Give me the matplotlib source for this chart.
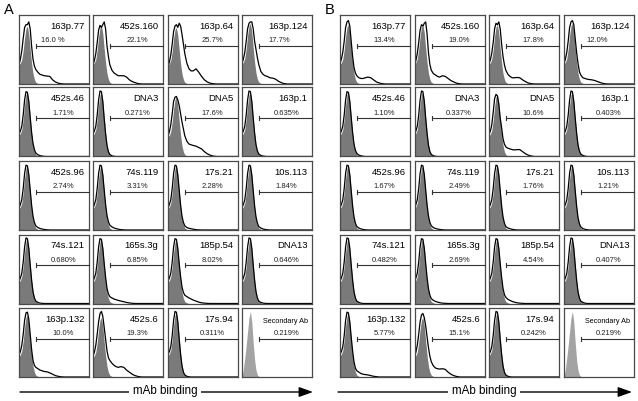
import matplotlib
matplotlib.use("Agg")
import matplotlib.pyplot as plt

plt.rcParams['font.family'] = ['Liberation Sans', 'DejaVu Sans']

# ---------------- data ----------------
# fluorescence axis (fraction of log scale) at which histogram heights were read
x_grid = [0, .02, .04, .06, .08, .10, .12, .14, .16, .18, .20, .22, .24, .27,
          .30, .33, .36, .40, .44, .48, .52, .56, .60, .65, .70, 1.0]

# isotype/secondary control histogram (normalised, peak = 1)
control = [.33, .36, .42, .58, .80, .96, 1.0, .86, .60, .36, .18, .08, .03, .01,
           0, 0, 0, 0, 0, 0, 0, 0, 0, 0, 0, 0]
# secondary antibody only panel
secondary = [0, .12, .28, .46, .66, .86, .95, .80, .50, .25, .10, .03, .01, 0,
             0, 0, 0, 0, 0, 0, 0, 0, 0, 0, 0, 0]

names = ["163p.77", "452s.160", "163p.64", "163p.124",
         "452s.46", "DNA3", "DNA5", "163p.1",
         "452s.96", "74s.119", "17s.21", "10s.113",
         "74s.121", "165s.3g", "185p.54", "DNA13",
         "163p.132", "452s.6", "17s.94", "Secondary Ab"]

pct_A = ["16.0 %", "22.1%", "25.7%", "17.7%", "1.71%", "0.271%", "17.6%", "0.635%",
         "2.74%", "3.31%", "2.28%", "1.84%", "0.680%", "6.85%", "8.02%", "0.646%",
         "10.0%", "19.3%", "0.311%", "0.219%"]
pct_B = ["13.4%", "19.0%", "17.8%", "12.0%", "1.10%", "0.337%", "10.6%", "0.403%",
         "1.67%", "2.49%", "1.76%", "1.21%", "0.482%", "2.69%", "4.54%", "0.407%",
         "5.77%", "15.1%", "0.242%", "0.219%"]

# height of control histogram in each panel
ctrl_peak_A = [.84, .85, .82, .88, .93, .93, .86, .93, .93, .93, .93, .93,
               .93, .93, .92, .93, .90, .86, .93, .93]
ctrl_peak_B = [.86, .86, .86, .88, .93, .93, .90, .93, .93, .93, .93, .93,
               .93, .93, .93, .93, .92, .86, .93, .93]

# mAb staining histograms (black lines), read at x_grid
lines_A = [
    [.28, .36, .48, .66, .82, .86, .86, .90, .80, .55, .36, .26, .21, .17, .14, .13, .12, .115, .11, .06, .03, .012, .004, 0, 0, 0],
    [.28, .34, .44, .60, .78, .85, .82, .86, .90, .80, .55, .40, .28, .20, .16, .14, .12, .12, .12, .10, .06, .035, .02, .005, 0, 0],
    [.26, .32, .42, .58, .76, .84, .86, .82, .88, .84, .72, .58, .44, .30, .22, .19, .19, .22, .17, .11, .06, .03, .012, .004, 0, 0],
    [.30, .36, .46, .62, .80, .88, .90, .90, .80, .62, .50, .38, .28, .18, .14, .12, .11, .09, .085, .07, .04, .02, .006, 0, 0, 0],
    [.33, .37, .44, .60, .82, .94, .93, .80, .57, .35, .19, .10, .05, .025, .013, .006, .002, 0, 0, 0, 0, 0, 0, 0, 0, 0],
    [.33, .37, .44, .60, .82, .95, .94, .80, .55, .33, .16, .07, .03, .01, .003, 0, 0, 0, 0, 0, 0, 0, 0, 0, 0, 0],
    [.30, .36, .46, .62, .80, .86, .87, .82, .74, .62, .50, .40, .30, .22, .18, .17, .16, .15, .13, .11, .07, .04, .02, .005, 0, 0],
    [.33, .37, .44, .60, .82, .95, .94, .80, .56, .34, .17, .08, .035, .015, .006, .002, 0, 0, 0, 0, 0, 0, 0, 0, 0, 0],
    [.32, .37, .44, .60, .82, .94, .93, .80, .58, .36, .20, .11, .06, .035, .022, .014, .008, .003, 0, 0, 0, 0, 0, 0, 0, 0],
    [.32, .37, .44, .60, .82, .94, .93, .80, .58, .37, .21, .12, .07, .045, .03, .02, .012, .005, .002, 0, 0, 0, 0, 0, 0, 0],
    [.32, .37, .44, .60, .82, .94, .93, .80, .58, .36, .20, .11, .06, .035, .025, .018, .012, .005, .002, 0, 0, 0, 0, 0, 0, 0],
    [.33, .37, .44, .60, .82, .94, .93, .80, .57, .35, .19, .10, .05, .028, .015, .008, .003, 0, 0, 0, 0, 0, 0, 0, 0, 0],
    [.33, .37, .44, .60, .82, .95, .94, .80, .56, .34, .17, .08, .035, .015, .006, .002, 0, 0, 0, 0, 0, 0, 0, 0, 0, 0],
    [.33, .37, .44, .60, .82, .94, .93, .80, .58, .38, .22, .14, .10, .08, .065, .055, .045, .035, .025, .015, .008, .003, 0, 0, 0, 0],
    [.33, .37, .44, .60, .82, .94, .93, .80, .58, .39, .24, .16, .12, .10, .08, .065, .05, .035, .02, .01, .005, .002, 0, 0, 0, 0],
    [.33, .37, .44, .60, .82, .95, .94, .80, .56, .34, .17, .08, .035, .015, .006, .002, 0, 0, 0, 0, 0, 0, 0, 0, 0, 0],
    [.32, .37, .46, .62, .82, .93, .94, .84, .62, .40, .24, .17, .14, .12, .10, .09, .08, .075, .06, .04, .02, .01, .003, 0, 0, 0],
    [.30, .36, .46, .62, .80, .92, .95, .88, .72, .55, .38, .28, .24, .20, .17, .15, .14, .15, .14, .10, .07, .04, .02, .006, 0, 0],
    [.33, .37, .44, .60, .82, .95, .94, .80, .55, .33, .16, .07, .03, .01, .003, 0, 0, 0, 0, 0, 0, 0, 0, 0, 0, 0],
    None,
]
lines_B = [
    [.30, .36, .46, .62, .82, .90, .92, .84, .62, .40, .24, .16, .12, .09, .08, .08, .09, .10, .09, .06, .03, .015, .005, 0, 0, 0],
    [.28, .34, .44, .60, .78, .86, .84, .88, .90, .72, .45, .28, .20, .15, .13, .11, .10, .12, .11, .08, .05, .03, .012, .003, 0, 0],
    [.30, .35, .45, .60, .80, .88, .86, .90, .80, .58, .40, .28, .20, .14, .11, .09, .09, .095, .09, .06, .035, .015, .005, 0, 0, 0],
    [.30, .36, .46, .62, .82, .90, .92, .86, .66, .46, .30, .18, .13, .09, .08, .07, .065, .06, .05, .035, .02, .008, .002, 0, 0, 0],
    [.33, .37, .44, .60, .82, .94, .93, .80, .57, .35, .18, .09, .045, .02, .01, .004, 0, 0, 0, 0, 0, 0, 0, 0, 0, 0],
    [.33, .37, .44, .60, .82, .95, .94, .80, .55, .33, .16, .07, .03, .01, .003, 0, 0, 0, 0, 0, 0, 0, 0, 0, 0, 0],
    [.32, .37, .46, .64, .84, .90, .88, .76, .56, .42, .26, .18, .14, .12, .11, .10, .095, .10, .10, .07, .04, .02, .008, 0, 0, 0],
    [.33, .37, .44, .60, .82, .95, .94, .80, .56, .34, .17, .08, .035, .015, .005, 0, 0, 0, 0, 0, 0, 0, 0, 0, 0, 0],
    [.33, .37, .44, .60, .82, .94, .93, .80, .57, .35, .19, .10, .05, .028, .015, .008, .003, 0, 0, 0, 0, 0, 0, 0, 0, 0],
    [.32, .37, .44, .60, .82, .94, .93, .80, .58, .36, .20, .11, .06, .035, .022, .014, .008, .003, 0, 0, 0, 0, 0, 0, 0, 0],
    [.33, .37, .44, .60, .82, .94, .93, .80, .57, .35, .19, .10, .05, .03, .018, .01, .005, 0, 0, 0, 0, 0, 0, 0, 0, 0],
    [.33, .37, .44, .60, .82, .94, .93, .80, .57, .35, .18, .09, .045, .02, .01, .004, 0, 0, 0, 0, 0, 0, 0, 0, 0, 0],
    [.33, .37, .44, .60, .82, .95, .94, .80, .56, .34, .17, .08, .035, .015, .005, 0, 0, 0, 0, 0, 0, 0, 0, 0, 0, 0],
    [.33, .37, .44, .60, .82, .94, .93, .80, .58, .37, .21, .12, .07, .045, .03, .02, .012, .005, .002, 0, 0, 0, 0, 0, 0, 0],
    [.33, .37, .44, .60, .82, .94, .93, .80, .58, .38, .22, .13, .09, .06, .045, .03, .02, .01, .005, .002, 0, 0, 0, 0, 0, 0],
    [.33, .37, .44, .60, .82, .95, .94, .80, .56, .34, .17, .08, .035, .015, .005, 0, 0, 0, 0, 0, 0, 0, 0, 0, 0, 0],
    [.33, .37, .44, .60, .82, .94, .93, .80, .58, .38, .22, .13, .09, .07, .05, .04, .035, .03, .02, .01, .005, 0, 0, 0, 0, 0],
    [.30, .36, .46, .62, .80, .90, .92, .86, .74, .58, .42, .30, .22, .16, .13, .12, .115, .12, .11, .07, .04, .02, .008, 0, 0, 0],
    [.33, .37, .44, .60, .82, .95, .94, .80, .55, .33, .16, .07, .03, .01, .003, 0, 0, 0, 0, 0, 0, 0, 0, 0, 0, 0],
    None,
]

# ---------------- layout ----------------
W, H = 638, 401
fig = plt.figure(figsize=(W / 100, H / 100), dpi=100)

cols_A = [19, 93, 168, 242]
cols_B = [340, 414.5, 489, 564]
rows_top = [15, 87.5, 161, 234.5, 308]
pw, ph = 70, 69
gate_x, gate_y = 0.245, 0.555
pct_xpos_A = {0: 0.49, 3: 0.53}
pct_xpos_B = {3: 0.48}

FILL = '#7a7a7a'
FILL_SEC = '#a3a3a3'


def draw_panel(left, top, idx, line, cpeak, pct, pctx):
    ax = fig.add_axes([left / W, 1 - (top + ph) / H, pw / W, ph / H])
    ax.set_xlim(0, 1)
    ax.set_ylim(0, 1)
    ax.set_xticks([])
    ax.set_yticks([])
    for s in ax.spines.values():
        s.set_color('#4a4a4a')
        s.set_linewidth(0.9)
    if line is None:
        ax.fill_between(x_grid, 0, secondary, color=FILL_SEC, lw=0, zorder=1)
        ax.text(0.94, 0.81, names[idx], ha='right', va='center', fontsize=5.2)
    else:
        ax.fill_between(x_grid, 0, [c * cpeak for c in control], color=FILL, lw=0, zorder=1)
        ax.plot(x_grid, line, color='black', lw=0.9, zorder=2)
        ax.text(0.935, 0.835, names[idx], ha='right', va='center', fontsize=6.8)
    ax.plot([gate_x, 1], [gate_y, gate_y], color='#333333', lw=0.8, zorder=3, clip_on=False)
    ax.plot([gate_x, gate_x], [gate_y - 0.03, gate_y + 0.03], color='#333333', lw=0.8, zorder=3)
    ax.text(pctx, 0.625, pct, ha='center', va='center', fontsize=5.5, color='#222222')


for i in range(20):
    r, c = divmod(i, 4)
    draw_panel(cols_A[c], rows_top[r], i, lines_A[i], ctrl_peak_A[i], pct_A[i],
               pct_xpos_A.get(i, 0.635))
    draw_panel(cols_B[c], rows_top[r], i, lines_B[i], ctrl_peak_B[i], pct_B[i],
               pct_xpos_B.get(i, 0.635))

# overlay for panel letters and axis arrows
ov = fig.add_axes([0, 0, 1, 1])
ov.set_xlim(0, W)
ov.set_ylim(H, 0)
ov.axis('off')
ov.patch.set_visible(False)
ov.text(9, 10.5, 'A', ha='center', va='center', fontsize=10.5)
ov.text(329.5, 10.5, 'B', ha='center', va='center', fontsize=10.5)
for x0, x1, xc in [(20, 313, 165), (338, 632, 484)]:
    ov.annotate('', xy=(x1, 392), xytext=(x0, 392),
                arrowprops=dict(arrowstyle='-|>,head_length=0.7,head_width=0.25',
                                color='black', lw=1.0, mutation_scale=12,
                                shrinkA=0, shrinkB=0))
    ov.text(xc, 391, 'mAb binding', ha='center', va='center', fontsize=8.4,
            bbox=dict(boxstyle='square,pad=0.3', fc='white', ec='none'), zorder=5)

fig.savefig('out.png', dpi=100)
